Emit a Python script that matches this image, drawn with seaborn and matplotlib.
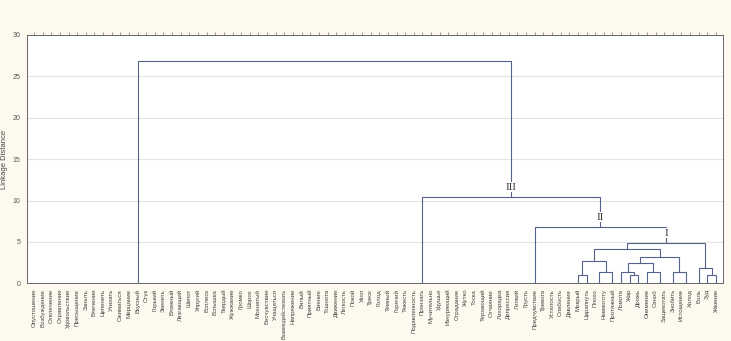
import matplotlib
matplotlib.use("Agg")
import matplotlib.pyplot as plt
import seaborn as sns

labels = [
    "Опустошение", "Возбуждение", "Отвлечение", "Отравление", "Удовольствие",
    "Пресыщение", "Заныть", "Влечение", "Цепенеть", "Утихать", "Сжиматься",
    "Мерцание", "Вкусный", "Стук", "Горький", "Звенеть", "Влажный",
    "Лязгающий", "Шепот", "Упругий", "Всплеск", "Вспышка", "Твердый",
    "Жужжание", "Громко", "Шорох", "Мохнатый", "Бесчувствие", "Учащаться",
    "Взаимодействовать", "Напряжение", "Вялый", "Приятный", "Биение",
    "Тошнота", "Движение", "Легкость", "Покой", "Укол", "Треск", "Голод",
    "Темный", "Горячий", "Тяжесть", "Подавленность", "Пронзать",
    "Мучительно", "Удушье", "Изнуряющий", "Страдание", "Жутко", "Тоска",
    "Терзающий", "Отчаяние", "Лихорадка", "Депрессия", "Липкий", "Грусть",
    "Предчувствие", "Тревога", "Усталость", "Слабость", "Давление", "Мокрый",
    "Царапнуть", "Плохо", "Невмоготу", "Протяжный", "Ломота", "Жар", "Дрожь",
    "Онемение", "Озноб", "Защекотать", "Знобить", "Истощение", "Холод",
    "Боль", "Зуд", "Жжение",
]

# groups of leaves joined at zero distance: (first leaf, last leaf, stem leaf)
flat_groups = {
    "G1": ("Опустошение", "Подавленность", "Вкусный"),
    "G2": ("Пронзать", "Грусть", "Пронзать"),
    "G3": ("Предчувствие", "Давление", "Предчувствие"),
}

# merges in order; nodes named M0, M1, ...
merge_a = ["Мокрый", "Плохо", "M1", "M0", "Жар", "Ломота", "Озноб", "Онемение",
           "M5", "Истощение", "Знобить", "M8", "M3", "Зуд", "Боль", "M12",
           "G3", "G2", "G1"]
merge_b = ["Царапнуть", "Невмоготу", "Протяжный", "M2", "Дрожь", "M4",
           "Защекотать", "M6", "M7", "Холод", "M9", "M10", "M11", "Жжение",
           "M13", "M14", "M15", "M16", "M17"]
merge_h = [1.0, 0.0, 1.37, 2.70, 1.0, 1.37, 0.0, 1.37, 2.46, 0.0, 1.37, 3.18,
           4.15, 1.0, 1.85, 4.9, 6.85, 10.45, 26.9]

cluster_names = {"M15": "I", "M16": "II", "M17": "III"}

sns.set_style("white")
plt.rcParams["font.family"] = ["Liberation Sans", "DejaVu Sans"]

fig = plt.figure(figsize=(7.31, 3.41), dpi=100, facecolor="#fdf9ee")
ax = fig.add_axes([0.0373, 0.1692, 0.9514, 0.7282])
ax.set_facecolor("white")

line_col = "#56628c"
pos = {lab: i for i, lab in enumerate(labels)}
node_x, node_h = {}, {}
for lab in labels:
    node_x[lab] = pos[lab]
    node_h[lab] = 0.0
for g, (first, last, stem) in flat_groups.items():
    node_x[g] = pos[stem]
    node_h[g] = 0.0

for i, (a, b, h) in enumerate(zip(merge_a, merge_b, merge_h)):
    xa, xb = node_x[a], node_x[b]
    ax.plot([xa, xa, xb, xb], [node_h[a], h, h, node_h[b]],
            color=line_col, lw=0.8, solid_joinstyle="miter", zorder=3)
    name = f"M{i}"
    node_x[name] = (xa + xb) / 2
    node_h[name] = h

for name, txt in cluster_names.items():
    ax.text(node_x[name], node_h[name] + 1.15, txt, ha="center", va="center",
            fontsize=8, family=["Liberation Serif", "DejaVu Serif"],
            color="#333333", zorder=5,
            bbox=dict(boxstyle="square,pad=0.05", fc="white", ec="none"))

ax.set_xlim(-0.78, len(labels) - 1 + 0.78)
ax.set_ylim(0, 30)
ax.set_yticks(range(0, 31, 5))
ax.set_yticks(range(0, 31, 1), minor=True)
ax.set_xticks(range(len(labels)))
ax.set_xticklabels(labels, rotation=90, fontsize=4.4, color="#444444")
for t in ax.get_xticklabels():
    if len(t.get_text()) > 14:
        t.set_fontsize(3.9)
ax.tick_params(axis="y", labelsize=5, colors="#555555", length=3, width=0.6,
               pad=2)
ax.tick_params(axis="y", which="minor", length=1.5, width=0.5, colors="#777777")
ax.tick_params(axis="x", length=2.5, width=0.5, colors="#777777", pad=1.5,
               labelcolor="#444444", top=True)
ax.set_ylabel("Linkage Distance", fontsize=5.5, color="#444444", labelpad=3)

for y in range(5, 30, 5):
    ax.axhline(y, color="#e3e3e3", lw=0.8, zorder=1)

for sp in ax.spines.values():
    sp.set_color("#666666")
    sp.set_linewidth(0.7)

fig.savefig("out.png", dpi=100, facecolor=fig.get_facecolor())
